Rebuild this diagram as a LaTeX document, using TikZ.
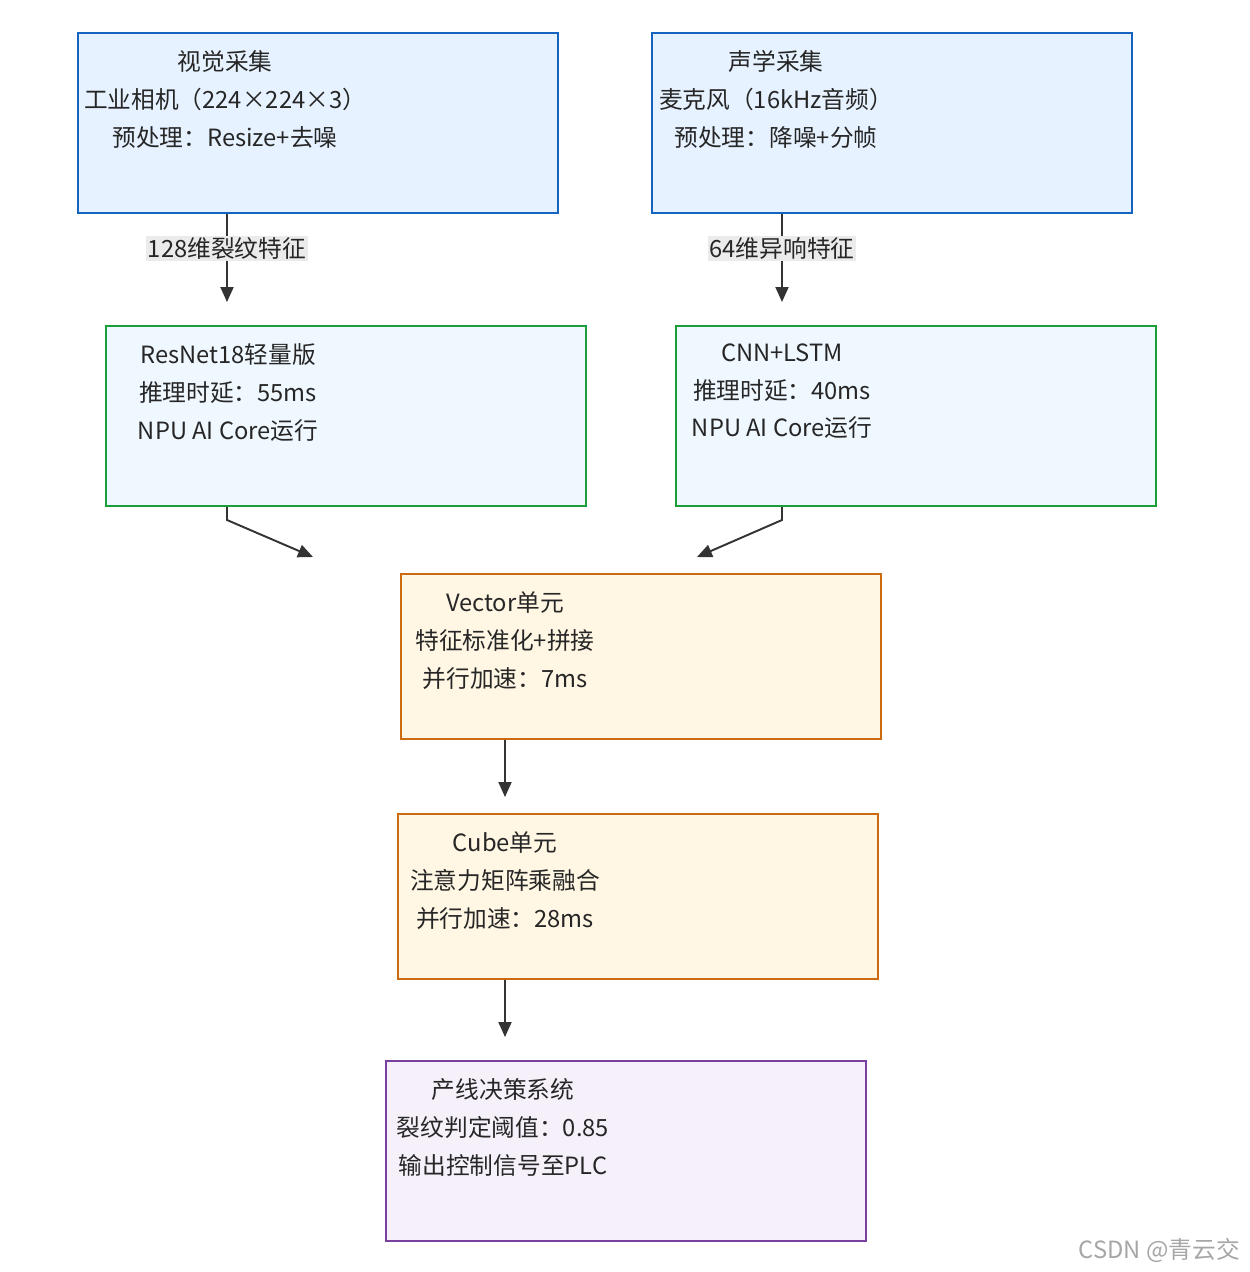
\documentclass[tikz,border=0pt]{standalone}
\usepackage{fontspec}
\setmainfont{Noto Sans CJK SC}
\usetikzlibrary{arrows.meta, positioning}
\definecolor{inBlue}{HTML}{1565C0}
\definecolor{inFill}{HTML}{E6F2FF}
\definecolor{mdGreen}{HTML}{1A9E3A}
\definecolor{mdFill}{HTML}{F0F8FF}
\definecolor{npOrange}{HTML}{CC6A10}
\definecolor{npFill}{HTML}{FFF6E3}
\definecolor{outPurple}{HTML}{7B3FA0}
\definecolor{outFill}{HTML}{F5F0FA}
\begin{document}
\begin{tikzpicture}[x=0.02cm, y=-0.02cm,
        every node/.style={font=\fontsize{13.5}{21.6}\selectfont},
        box/.style={rectangle, draw, line width=1.2pt, minimum width=9.6cm, anchor=north west, inner sep=0pt},
        input/.style={box, draw=inBlue, fill=inFill, minimum height=3.6cm},
        model/.style={box, draw=mdGreen, fill=mdFill, minimum height=3.6cm},
        npu/.style={box, draw=npOrange, fill=npFill, minimum height=3.3cm},
        output/.style={box, draw=outPurple, fill=outFill, minimum height=3.6cm},
        txt/.style={anchor=north, align=center, inner sep=0pt, text=black!85},
        tag/.style={fill=black!8, inner sep=1pt, text=black!85},
        arrow/.style={-{Triangle[length=3mm, width=2.6mm]}, line width=1.1pt, draw=black!80}
    ]
        \useasboundingbox (0,0) rectangle (1250,1272);
        \node[input] (visual) at (77,32) {};
        \node[input] (sound) at (651,32) {};
        \node[model] (resnet) at (105,325) {};
        \node[model] (cnn) at (675,325) {};
        \node[npu] (vector) at (400,573) {};
        \node[npu] (cube) at (397,813) {};
        \node[output] (plc) at (385,1060) {};
        % texts
        \node[txt] (visualtxt) at (225,50) {视觉采集\\工业相机（224×224×3）\\预处理：Resize+去噪};
        \node[txt] (soundtxt) at (776,50) {声学采集\\麦克风（16kHz音频）\\预处理：降噪+分帧};
        \node[txt] (resnettxt) at (228,343) {ResNet18轻量版\\推理时延：55ms\\NPU AI Core运行};
        \node[txt] (cnntxt) at (782,343) {CNN+LSTM\\推理时延：40ms\\NPU AI Core运行};
        \node[txt] (vectortxt) at (505,591) {Vector单元\\特征标准化+拼接\\并行加速：7ms};
        \node[txt] (cubetxt) at (505,831) {Cube单元\\注意力矩阵乘融合\\并行加速：28ms};
        \node[txt] (plctxt) at (503,1078) {产线决策系统\\裂纹判定阈值：0.85\\输出控制信号至PLC};
        % connectors
        \coordinate (vin) at (313,557);
        \coordinate (sin) at (697,557);
        \draw[arrow] (visual.south -| 227,0) -- (227,302) node[pos=0.39, tag] {128维裂纹特征};
        \draw[arrow] (sound.south -| 782,0) -- (782,302) node[pos=0.39, tag] {64维异响特征};
        \draw[arrow] (resnet.south -| 227,0) -- (227,520) -- (vin);
        \draw[arrow] (cnn.south -| 782,0) -- (782,520) -- (sin);
        \draw[arrow] (vector.south -| 505,0) -- (505,797);
        \draw[arrow] (cube.south -| 505,0) -- (505,1037);
        \node[text=black!35, anchor=east] (mark) at (1246,1250) {CSDN @青云交};
    \end{tikzpicture}
\end{document}
